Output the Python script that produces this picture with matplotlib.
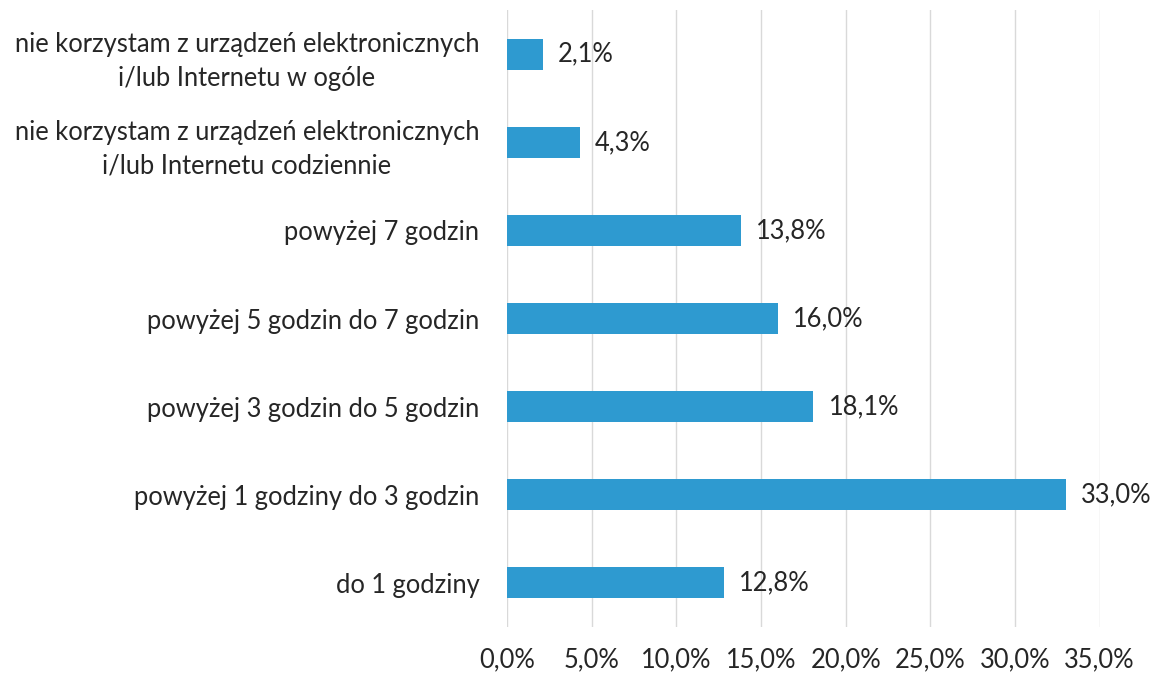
import numpy as np
import matplotlib.pyplot as plt
from matplotlib.ticker import FuncFormatter

# dane (od góry do dołu)
kategorie = [
    "nie korzystam z urządzeń elektronicznych\ni/lub Internetu w ogóle",
    "nie korzystam z urządzeń elektronicznych\ni/lub Internetu codziennie",
    "powyżej 7 godzin",
    "powyżej 5 godzin do 7 godzin",
    "powyżej 3 godzin do 5 godzin",
    "powyżej 1 godziny do 3 godzin",
    "do 1 godziny",
]
procenty = [2.1, 4.3, 13.8, 16.0, 18.1, 33.0, 12.8]
osie_x = [0, 5, 10, 15, 20, 25, 30, 35]

plt.rcParams['font.family'] = ['Lato', 'DejaVu Sans']
fs = 18.4

fig = plt.figure(figsize=(11.55, 6.77), dpi=100)
ax = fig.add_axes([0.439, 0.074, 0.513, 0.911])

y = np.arange(len(kategorie))
ax.barh(y, procenty, height=0.35, color='#2E9AD0', zorder=3)

for yi, v in zip(y, procenty):
    ax.text(v + 0.9, yi, f"{v:.1f}%".replace('.', ','), va='center', ha='left',
            fontsize=fs, color='#262626')

ax.set_yticks(y)
ax.set_yticklabels(kategorie, fontsize=fs, color='#262626',
                   multialignment='center', linespacing=1.45)
ax.set_ylim(-0.5, len(kategorie) - 0.5)
ax.invert_yaxis()

ax.set_xlim(0, 35)
ax.set_xticks(osie_x)
ax.xaxis.set_major_formatter(FuncFormatter(lambda v, p: f"{v:.1f}%".replace('.', ',')))
ax.tick_params(axis='x', labelsize=fs, labelcolor='#262626', length=0, pad=15)
ax.tick_params(axis='y', length=0, pad=20)

ax.grid(axis='x', color='#d9d9d9', linewidth=1, zorder=0)
for s in ax.spines.values():
    s.set_visible(False)

fig.savefig('out.png', dpi=100)
